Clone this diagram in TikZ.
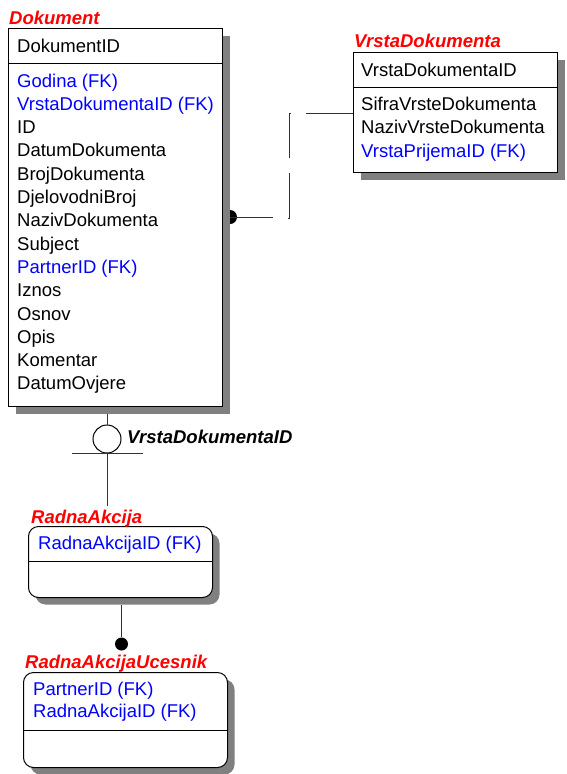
\documentclass[tikz,border=0pt]{standalone}
\usepackage{fontspec}
\setmainfont{Liberation Sans}
\usetikzlibrary{shadows,calc}
\tikzset{
  entity/.style={draw, fill=white, line width=1pt, inner sep=0pt, anchor=north west,
    drop shadow={shadow xshift=7pt, shadow yshift=-7pt, fill=black!50, opacity=1}},
  attr/.style={anchor=base west, inner sep=0pt, font=\fontsize{18.5}{22}\selectfont},
  enttitle/.style={attr, text=red, font=\fontsize{18.5}{22}\selectfont\bfseries\itshape},
  link/.style={line width=1pt, draw=black!80},
  blob/.style={circle, fill=black, inner sep=0pt},
}
\begin{document}
\begin{tikzpicture}[x=1pt,y=-1pt]
	\useasboundingbox (0,0) rectangle (567,774);
	% dot half hidden by the shadow of Dokument
	\node[blob, minimum size=14pt] (dotr) at (230,217) {};
	% Dokument
	\node[entity, minimum width=214pt, minimum height=378pt] (dok) at (8,28) {};
	\draw[line width=1pt] ([yshift=-35pt]dok.north west) -- ([yshift=-35pt]dok.north east);
	\node[enttitle] (dokt) at (9,24) {Dokument};
	\node[attr] (dok0) at (17,52) {DokumentID};
	\foreach \t/\c [count=\i] in {Godina (FK)/blue, VrstaDokumentaID (FK)/blue, ID/black,
		DatumDokumenta/black, BrojDokumenta/black, DjelovodniBroj/black, NazivDokumenta/black,
		Subject/black, PartnerID (FK)/blue, Iznos/black, Osnov/black, Opis/black,
		Komentar/black, DatumOvjere/black}
		\node[attr, text=\c] (dok\i) at (17,63.7+23.3*\i) {\t};
	% VrstaDokumenta
	\node[entity, minimum width=204pt, minimum height=120pt] (vd) at (353,52) {};
	\draw[line width=1pt] ([yshift=-35pt]vd.north west) -- ([yshift=-35pt]vd.north east);
	\node[enttitle] (vdt) at (354,47) {VrstaDokumenta};
	\node[attr] (vd0) at (361,76) {VrstaDokumentaID};
	\foreach \t/\c [count=\i] in {SifraVrsteDokumenta/black, NazivVrsteDokumenta/black,
		VrstaPrijemaID (FK)/blue}
		\node[attr, text=\c] (vd\i) at (361,87.2+23.3*\i) {\t};
	% RadnaAkcija
	\node[entity, rounded corners=10pt, minimum width=184pt, minimum height=71pt] (ra) at (28,526) {};
	\draw[line width=1pt] ([yshift=-35pt]ra.north west) -- ([yshift=-35pt]ra.north east);
	\node[enttitle] (rat) at (31,523) {RadnaAkcija};
	\node[attr, text=blue] (ra1) at (38,549) {RadnaAkcijaID (FK)};
	% RadnaAkcijaUcesnik
	\node[entity, rounded corners=10pt, minimum width=204pt, minimum height=95pt] (rau) at (23,672) {};
	\draw[line width=1pt] ([yshift=-58pt]rau.north west) -- ([yshift=-58pt]rau.north east);
	\node[enttitle] (raut) at (25,668) {RadnaAkcijaUcesnik};
	\node[attr, text=blue] (rau1) at (33,695) {PartnerID (FK)};
	\node[attr, text=blue] (rau2) at (33,717) {RadnaAkcijaID (FK)};
	% Dokument -- RadnaAkcija
	\node[circle, draw, fill=white, line width=1pt, minimum size=28pt, inner sep=0pt] (rel) at (107,439) {};
	\node[enttitle, text=black] (rell) at (127,443) {VrstaDokumentaID};
	\draw[link] ($(rel.north |- dok.south)+(0,7)$) -- (rel.north);
	\draw[link] ([xshift=-35pt]rel.south) -- ([xshift=36pt]rel.south);
	\draw[link] (rel.south) -- ($(rel.south |- rat.north)+(0,-3)$);
	% RadnaAkcija -- RadnaAkcijaUcesnik
	\node[blob, minimum size=13pt] (dotb) at (121.5,644) {};
	\draw[link] ($(dotb |- ra.south)+(0,7)$) -- (dotb);
	% Dokument -- VrstaDokumenta
	\coordinate (j1) at (273,217);
	\coordinate (j2) at (291,113);
	\coordinate (j3) at (289,173);
	\coordinate (j4) at (306,113);
	\draw[link] (dotr.center) -- (j1);
	\draw[link] (j2) -- (289,113) -- (289,158);
	\draw[link] (j3) -- (289,218) -- (288,218);
	\draw[link] (j4) -- (j4 -| vd.west);
\end{tikzpicture}
\end{document}
